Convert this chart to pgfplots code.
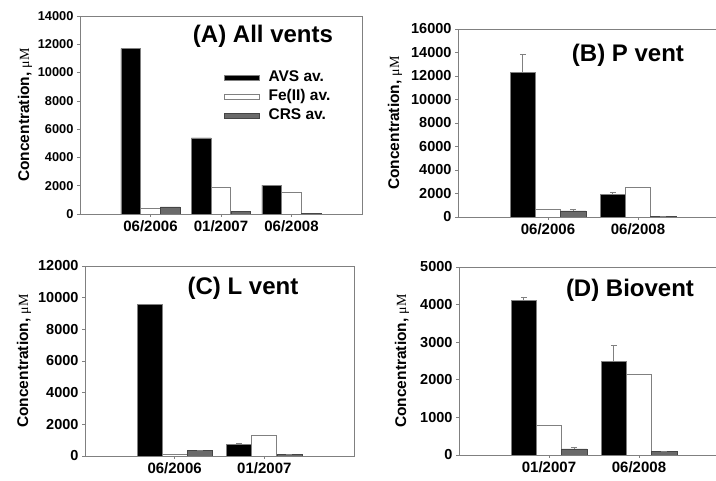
\documentclass[border=0pt]{standalone}
\usepackage{pgfplots}
\pgfplotsset{compat=1.18}
\usepackage{fontspec}
\setmainfont{Liberation Sans}
\newfontfamily\serif{Liberation Serif}
\definecolor{edge}{HTML}{808080}
\definecolor{crsfill}{HTML}{6A6A6A}
\definecolor{crsedge}{HTML}{454545}

\pgfplotsset{
  panel/.style={
    scale only axis, anchor=south west,
    ybar, ymin=0, xmin=0, xmax=3,
    bar width=0.28,
    axis line style={edge, line width=0.8pt},
    tick style={edge, line width=0.6pt}, tick align=outside, major tick length=3pt,
    xtick pos=bottom, ytick pos=left,
    /pgf/number format/assume math mode=true,
    /pgf/number format/set thousands separator={},
    scaled y ticks=false,
    yticklabel style={font=\bfseries\fontsize{14.5}{16}\selectfont},
    xticklabel style={font=\bfseries\fontsize{15}{17}\selectfont},
    ylabel={Concentration, {\serif\mdseries\fontsize{14}{15}\selectfont μM}},
    ylabel style={font=\bfseries\fontsize{15.5}{17}\selectfont, anchor=center},
  },
  avs/.style={fill=black, draw=edge, line width=0.6pt, bar shift=-0.28},
  fe/.style={fill=white, draw=edge, line width=0.8pt, bar shift=0},
  crs/.style={fill=crsfill, draw=crsedge, line width=0.6pt, bar shift=0.28},
  err/.style={error bars/.cd, y dir=plus, y explicit,
    error bar style={edge, line width=0.9pt},
    error mark options={rotate=90, edge, mark size=3pt, line width=0.9pt}},
}

\begin{document}
\begin{tikzpicture}
\useasboundingbox (0,0) rectangle (716pt,481pt);
\clip (0,0) rectangle (716pt,481pt);

% (A) All vents
\begin{axis}[panel, at={(80pt,267pt)}, width=282pt, height=198pt,
  xmax=4, ymax=14000, ytick={0,2000,...,14000},
  xtick={1,2,3}, xticklabels={06/2006,01/2007,06/2008},
  yticklabel style={font=\bfseries\fontsize{12.8}{14}\selectfont},
  ylabel style={at={(axis description cs:-0.195,0.5)}},
  legend style={at={(axis description cs:0.50,0.745)}, anchor=north west,
    draw=none, fill=none, font=\bfseries\fontsize{15.5}{18}\selectfont,
    row sep=1pt, nodes={text depth=3pt}},
  legend cell align=left]
\addplot[avs, forget plot] coordinates {(1,11700) (2,5380) (3,2040)};
\addplot[fe, forget plot] coordinates {(1,380) (2,1880) (3,1500)};
\addplot[crs, forget plot] coordinates {(1,500) (2,160) (3,50)};
\addlegendimage{legend image code/.code={\draw[fill=black,draw=edge] (0pt,-2.5pt) rectangle (35pt,2.5pt); \path[draw=none] (0pt,0pt) -- (42pt,0pt);}}
\addlegendentry{AVS av.}
\addlegendimage{legend image code/.code={\draw[fill=white,draw=edge,line width=0.8pt] (0pt,-2.5pt) rectangle (35pt,2.5pt); \path[draw=none] (0pt,0pt) -- (42pt,0pt);}}
\addlegendentry{Fe(II) av.}
\addlegendimage{legend image code/.code={\draw[fill=crsfill,draw=crsedge] (0pt,-2.5pt) rectangle (35pt,2.5pt); \path[draw=none] (0pt,0pt) -- (42pt,0pt);}}
\addlegendentry{CRS av.}
\end{axis}

% (B) P vent
\begin{axis}[panel, at={(458pt,264pt)}, width=270pt, height=188pt,
  ymax=16000, ytick={0,2000,...,16000},
  xtick={1,2}, xticklabels={06/2006,06/2008},
  ylabel style={at={(axis description cs:-0.233,0.5)}}]
\addplot[avs, err] coordinates {(1,12300) +- (0,1500) (2,1930) +- (0,170)};
\addplot[fe] coordinates {(1,660) (2,2550)};
\addplot[crs, err] coordinates {(1,520) +- (0,110) (2,40) +- (0,0)};
\end{axis}

% (C) L vent
\begin{axis}[panel, at={(85pt,25pt)}, width=269pt, height=190pt,
  ymax=12000, ytick={0,2000,...,12000},
  xtick={1,2}, xticklabels={06/2006,01/2007},
  ylabel style={at={(axis description cs:-0.227,0.5)}}]
\addplot[avs, err] coordinates {(1,9550) +- (0,0) (2,740) +- (0,40)};
\addplot[fe] coordinates {(1,100) (2,1300)};
\addplot[crs, err] coordinates {(1,330) +- (0,0) (2,80) +- (0,30)};
\end{axis}

% (D) Biovent
\begin{axis}[panel, at={(459pt,26pt)}, width=270pt, height=188pt,
  ymax=5000, ytick={0,1000,...,5000},
  xtick={1,2}, xticklabels={01/2007,06/2008},
  ylabel style={at={(axis description cs:-0.211,0.5)}}]
\addplot[avs, err] coordinates {(1,4120) +- (0,80) (2,2490) +- (0,420)};
\addplot[fe] coordinates {(1,780) (2,2150)};
\addplot[crs, err] coordinates {(1,160) +- (0,30) (2,90) +- (0,10)};
\end{axis}

\node[font=\bfseries\fontsize{24}{28}\selectfont] at (263pt,445pt) {(A) All vents};
\node[font=\bfseries\fontsize{24}{28}\selectfont] at (628pt,426pt) {(B) P vent};
\node[font=\bfseries\fontsize{24}{28}\selectfont] at (243pt,193pt) {(C) L vent};
\node[font=\bfseries\fontsize{24}{28}\selectfont] at (630pt,191pt) {(D) Biovent};
\end{tikzpicture}
\end{document}
